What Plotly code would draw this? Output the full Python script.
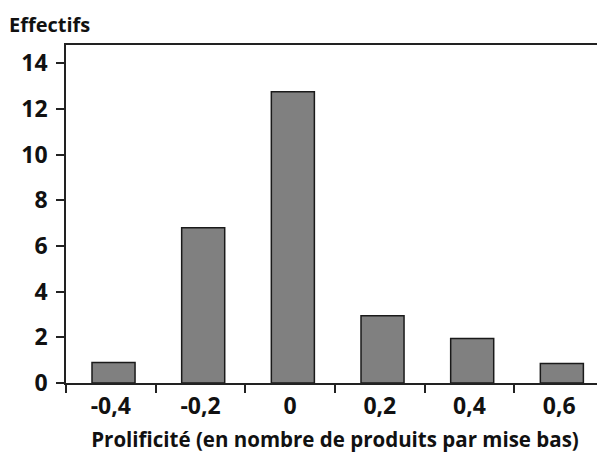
import plotly.graph_objects as go

# values
classes = ["-0,4", "-0,2", "0", "0,2", "0,4", "0,6"]
effectifs = [0.9, 6.8, 12.75, 2.95, 1.95, 0.85]
y_ticks = [0, 2, 4, 6, 8, 10, 12, 14]

FONT = "Open Sans"
INK = "#111111"

fig = go.Figure()
fig.add_trace(go.Bar(
    x=classes,
    y=effectifs,
    width=0.48,
    offset=-0.21,
    marker=dict(color="#808080", line=dict(color="#1a1a1a", width=1.5)),
    showlegend=False,
))

fig.add_annotation(
    text="Effectifs",
    xref="paper", yref="paper", x=0, y=1,
    xanchor="left", yanchor="middle",
    xshift=-59, yshift=21,
    showarrow=False,
    font=dict(family=FONT, size=20, color=INK, weight="bold"),
)

# the page body adds an 8px offset, so the figure is 8px smaller
fig.update_layout(
    width=597, height=445,
    paper_bgcolor="white",
    plot_bgcolor="white",
    margin=dict(l=58, r=1, t=37, b=70),
    font=dict(family=FONT, color=INK, weight="bold"),
    xaxis=dict(
        type="category",
        automargin=False,
        tickson="boundaries",
        ticks="outside", ticklen=8, tickwidth=1.5, tickcolor="#222",
        showline=True, linecolor="#222", linewidth=1.5, mirror=True,
        showgrid=False,
        tickfont=dict(family=FONT, size=23, weight="bold"),
        ticklabelstandoff=2,
        title=dict(
            text="Prolificité (en nombre de produits par mise bas)",
            font=dict(family=FONT, size=20.5, weight="bold"),
            standoff=17,
        ),
    ),
    yaxis=dict(
        automargin=False,
        range=[0, 14.8],
        tickvals=y_ticks,
        ticks="outside", ticklen=8, tickwidth=1.5, tickcolor="#222",
        showline=True, linecolor="#222", linewidth=1.5, mirror=True,
        showgrid=False, zeroline=False,
        tickfont=dict(family=FONT, size=23, weight="bold"),
        ticklabelstandoff=4,
    ),
)

fig.write_html("out.html")
